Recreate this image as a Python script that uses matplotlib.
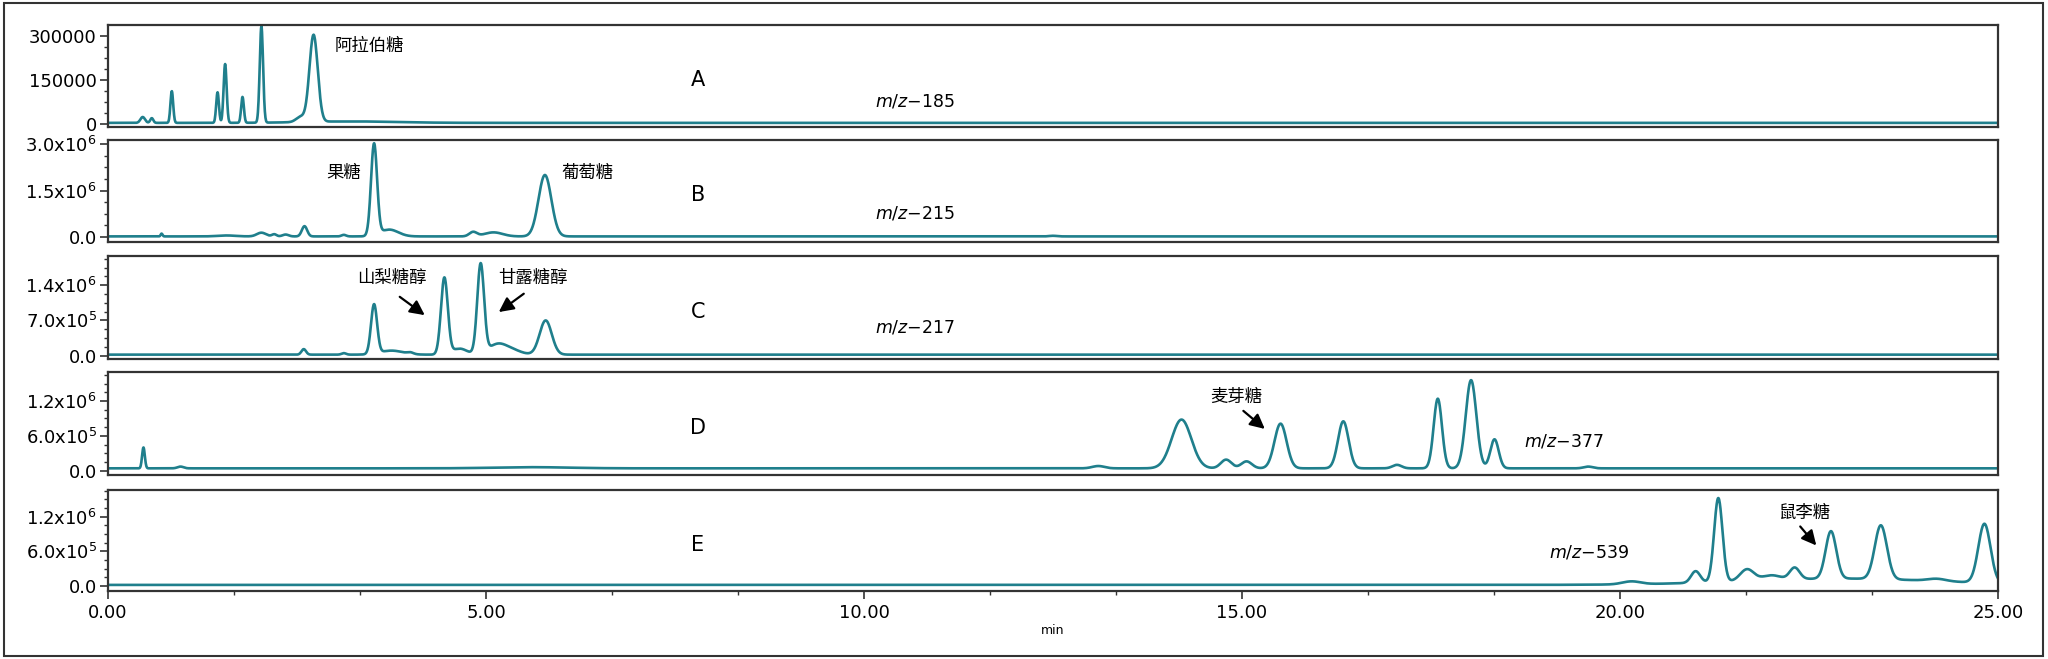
import numpy as np
import matplotlib.pyplot as plt
from matplotlib.patches import Rectangle
from matplotlib.ticker import FixedLocator, MultipleLocator, AutoMinorLocator

plt.rcParams['font.family'] = ['DejaVu Sans', 'Noto Sans CJK SC']
plt.rcParams['mathtext.fontset'] = 'dejavusans'

# 峰表: 保留时间(min), 峰高, 峰宽(sigma, min)
# A  m/z-185
a_rt = [0.46, 0.58, 0.845, 1.45, 1.55, 1.78, 2.03, 2.55, 2.72, 3.2]
a_h = [20000, 16000, 108000, 104000, 200000, 88000, 328000, 18000, 296000, 5000]
a_w = [0.03, 0.02, 0.018, 0.018, 0.02, 0.018, 0.022, 0.06, 0.055, 0.6]
# B  m/z-215
b_rt = [0.71, 1.57, 2.03, 2.20, 2.35, 2.60, 3.12, 3.52, 3.72, 4.83, 5.10, 5.78, 12.5]
b_h = [0.09e6, 0.03e6, 0.12e6, 0.07e6, 0.06e6, 0.33e6, 0.05e6, 2.95e6, 0.22e6, 0.14e6, 0.13e6, 1.98e6, 0.02e6]
b_w = [0.012, 0.12, 0.06, 0.03, 0.04, 0.035, 0.03, 0.04, 0.12, 0.05, 0.12, 0.085, 0.05]
# C  m/z-217
c_rt = [2.59, 3.12, 3.52, 3.75, 4.0, 4.45, 4.65, 4.93, 5.15, 5.35, 5.79]
c_h = [0.11e6, 0.03e6, 0.98e6, 0.08e6, 0.03e6, 1.52e6, 0.12e6, 1.78e6, 0.2e6, 0.08e6, 0.68e6]
c_w = [0.03, 0.03, 0.04, 0.15, 0.04, 0.045, 0.1, 0.045, 0.12, 0.12, 0.08]
# D  m/z-377
d_rt = [0.47, 0.96, 5.6, 13.1, 14.20, 14.79, 15.06, 15.51, 16.34, 17.05, 17.59, 18.03, 18.34, 19.58]
d_h = [0.36e6, 0.03e6, 0.02e6, 0.04e6, 0.84e6, 0.15e6, 0.12e6, 0.77e6, 0.81e6, 0.06e6, 1.2e6, 1.52e6, 0.5e6, 0.03e6]
d_w = [0.018, 0.04, 0.5, 0.08, 0.13, 0.07, 0.07, 0.08, 0.07, 0.06, 0.055, 0.07, 0.055, 0.06]
# E  m/z-539
e_rt = [20.15, 21.0, 21.30, 21.68, 22.0, 22.31, 22.79, 23.45, 24.19, 24.82, 22.9]
e_h = [0.05e6, 0.2e6, 1.45e6, 0.2e6, 0.08e6, 0.2e6, 0.82e6, 0.93e6, 0.04e6, 1.02e6, 0.11e6]
e_w = [0.12, 0.06, 0.055, 0.09, 0.12, 0.065, 0.07, 0.08, 0.12, 0.08, 1.3]

baselines = [3000, 0.02e6, 0.02e6, 0.04e6, 0.02e6]
panel_labels = ['A', 'B', 'C', 'D', 'E']
mz_labels = ['185', '215', '217', '377', '539']
mz_pos = [(10.15, 0.25), (10.15, 0.28), (10.15, 0.31), (18.73, 0.33), (19.06, 0.38)]
ylims = [(-11000, 336000), (-0.16e6, 3.13e6), (-0.067e6, 1.98e6), (-0.075e6, 1.70e6), (-0.085e6, 1.66e6)]
yticks = [[0, 150000, 300000], [0, 1.5e6, 3.0e6], [0, 7.0e5, 1.4e6], [0, 6.0e5, 1.2e6], [0, 6.0e5, 1.2e6]]
yticklabels = [['0', '150000', '300000'],
               ['0.0', r'1.5x10$^6$', r'3.0x10$^6$'],
               ['0.0', r'7.0x10$^5$', r'1.4x10$^6$'],
               ['0.0', r'6.0x10$^5$', r'1.2x10$^6$'],
               ['0.0', r'6.0x10$^5$', r'1.2x10$^6$']]
xticks = [0, 5, 10, 15, 20, 25]
xticklabels = ['0.00', '5.00', '10.00', '15.00', '20.00', '25.00']

peaks = [(a_rt, a_h, a_w), (b_rt, b_h, b_w), (c_rt, c_h, c_w), (d_rt, d_h, d_w), (e_rt, e_h, e_w)]

# 坐标轴位置 (figure 坐标)
bottoms = [0.8073, 0.6328, 0.4552, 0.2792, 0.1032]
heights = [0.1548, 0.1548, 0.1563, 0.1563, 0.1532]

line_color = '#1f7f8c'
spine_color = '#333333'

fig = plt.figure(figsize=(20.48, 6.59), dpi=100)
fig.patches.append(Rectangle((0.002, 0.005), 0.9955, 0.99, transform=fig.transFigure,
                             fill=False, edgecolor=spine_color, linewidth=1.5))

t = np.linspace(0, 25, 6000)
axes = []
for i in range(5):
    ax = fig.add_axes([0.0527, bottoms[i], 0.9229, heights[i]])
    axes.append(ax)
    rt, h, w = peaks[i]
    y = np.full_like(t, baselines[i])
    for r, hh, ww in zip(rt, h, w):
        y += hh * np.exp(-0.5 * ((t - r) / ww) ** 2)
    ax.plot(t, y, color=line_color, lw=1.9)
    ax.set_xlim(0, 25)
    ax.set_ylim(*ylims[i])
    ax.yaxis.set_major_locator(FixedLocator(yticks[i]))
    ax.set_yticklabels(yticklabels[i])
    ax.yaxis.set_minor_locator(AutoMinorLocator(4))
    ax.tick_params(axis='y', which='major', labelsize=13, length=6, width=1.2, color=spine_color, pad=2)
    ax.tick_params(axis='y', which='minor', length=3, width=1, color=spine_color)
    for s in ax.spines.values():
        s.set_color(spine_color)
        s.set_linewidth(1.6)
    tr = ax.get_xaxis_transform()
    ax.text(7.8, 0.46, panel_labels[i], transform=tr, fontsize=15, ha='center', va='center')
    ax.text(mz_pos[i][0], mz_pos[i][1], '$m/z$\u2212' + mz_labels[i], transform=tr,
            fontsize=12.5, ha='left', va='center')
    if i < 4:
        ax.tick_params(axis='x', which='both', bottom=False, labelbottom=False)
    else:
        ax.set_xticks(xticks)
        ax.set_xticklabels(xticklabels)
        ax.xaxis.set_minor_locator(MultipleLocator(5 / 3))
        ax.tick_params(axis='x', which='major', labelsize=13, length=6, width=1.2, color=spine_color)
        ax.tick_params(axis='x', which='minor', length=3, width=1, color=spine_color)
        ax.set_xlabel('min', fontsize=9, labelpad=1)

# 峰标注
arrow = dict(arrowstyle='-|>', color='black', lw=1.6, mutation_scale=22)
tA = axes[0].get_xaxis_transform()
axes[0].text(3.0, 0.79, '阿拉伯糖', transform=tA, fontsize=12.5, va='center')
tB = axes[1].get_xaxis_transform()
axes[1].text(2.89, 0.68, '果糖', transform=tB, fontsize=12.5, va='center')
axes[1].text(6.0, 0.68, '葡萄糖', transform=tB, fontsize=12.5, va='center')
tC = axes[2].get_xaxis_transform()
axes[2].text(3.30, 0.79, '山梨糖醇', transform=tC, fontsize=12.5, va='center')
axes[2].text(5.16, 0.79, '甘露糖醇', transform=tC, fontsize=12.5, va='center')
axes[2].annotate('', xy=(4.22, 0.41), xytext=(3.83, 0.62), xycoords=tC, textcoords=tC, arrowprops=arrow)
axes[2].annotate('', xy=(5.14, 0.44), xytext=(5.53, 0.65), xycoords=tC, textcoords=tC, arrowprops=arrow)
tD = axes[3].get_xaxis_transform()
axes[3].text(14.58, 0.76, '麦芽糖', transform=tD, fontsize=12.5, va='center')
axes[3].annotate('', xy=(15.33, 0.43), xytext=(14.99, 0.64), xycoords=tD, textcoords=tD, arrowprops=arrow)
tE = axes[4].get_xaxis_transform()
axes[4].text(22.1, 0.77, '鼠李糖', transform=tE, fontsize=12.5, va='center')
axes[4].annotate('', xy=(22.62, 0.43), xytext=(22.36, 0.66), xycoords=tE, textcoords=tE, arrowprops=arrow)

fig.savefig('out.png', dpi=100)
